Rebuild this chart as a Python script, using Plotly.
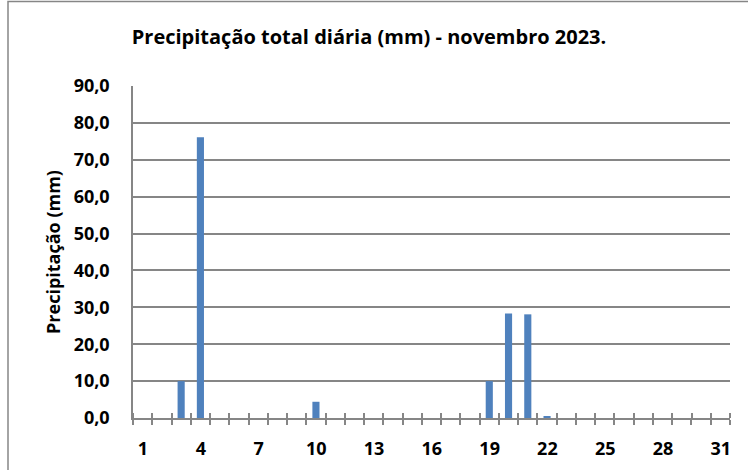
import plotly.graph_objects as go

days = list(range(1, 32))
precip = [0, 0, 10.0, 76.1, 0, 0, 0, 0, 0, 4.4, 0, 0, 0, 0, 0, 0, 0, 0, 10.0, 28.3,
          28.1, 0.3, 0, 0, 0, 0, 0, 0, 0, 0, 0]
x_labels = [1, 4, 7, 10, 13, 16, 19, 22, 25, 28, 31]
y_ticks = [0, 10, 20, 30, 40, 50, 60, 70, 80, 90]

boundaries = [d - 0.5 for d in days] + [days[-1] + 0.5]
boundary_text = [str(int(b + 0.5)) if int(b + 0.5) in x_labels else "" for b in boundaries]
inner_ticks = [b + 1e-3 for b in boundaries]
axis_color = "#868686"
font_family = "Open Sans"

L, R, T, B = 133, 18, 86, 52
W, H = 748, 470
pw, ph = W - L - R, H - T - B
half_cat_px = int(round(pw / len(days) / 2))

fig = go.Figure()
fig.add_trace(go.Bar(x=days, y=precip, marker=dict(color="#4F81BD", line=dict(width=0)),
                     hoverinfo="x+y"))

tick_font = dict(size=18, family=font_family, color="black", weight="bold")

fig.update_layout(
    width=W, height=H,
    margin=dict(l=L, r=R, t=T, b=B, pad=0),
    paper_bgcolor="white", plot_bgcolor="white",
    separators=",.",
    bargap=0.63,
    showlegend=False,
    font=dict(family=font_family, color="black"),
    title=dict(text="Precipitação total diária (mm) - novembro 2023.",
               x=369 / W, xanchor="center", y=1 - 37 / H, yanchor="middle",
               font=dict(size=20, family=font_family, color="black", weight="bold")),
    xaxis=dict(range=[0.5, 31.5], tickmode="array", tickvals=boundaries,
               ticktext=boundary_text, ticks="outside", ticklen=5, tickwidth=1.5,
               tickcolor=axis_color, ticklabelshift=half_cat_px,
               ticklabelstandoff=8,
               tickfont=tick_font,
               minor=dict(tickmode="array", tickvals=inner_ticks, ticks="inside",
                          ticklen=5, tickwidth=1.5, tickcolor=axis_color, showgrid=False),
               showgrid=False, zeroline=False, automargin=False,
               showline=True, linecolor=axis_color, linewidth=2,
               fixedrange=True),
    yaxis=dict(range=[0, 90], tickmode="array", tickvals=y_ticks, tickformat=".1f",
               ticks="", ticklabelstandoff=18,
               tickfont=tick_font,
               showgrid=True, gridcolor=axis_color, gridwidth=1.5,
               zeroline=False, showline=True, linecolor=axis_color, linewidth=1.5,
               automargin=False,
               title=dict(text="Precipitação (mm)", standoff=8,
                          font=dict(size=18, family=font_family, color="black",
                                    weight="bold")),
               fixedrange=True),
    shapes=[dict(type="rect", xref="paper", yref="paper",
                 x0=(8 - L) / pw, x1=1 + (R + 20) / pw,
                 y0=-(B + 20) / ph, y1=1 + (T - 1.5) / ph,
                 line=dict(color=axis_color, width=1.5), fillcolor="rgba(0,0,0,0)",
                 layer="below")],
)

fig.write_html("out.html", config={"displayModeBar": False},
               post_script="document.body.style.margin='0';")
